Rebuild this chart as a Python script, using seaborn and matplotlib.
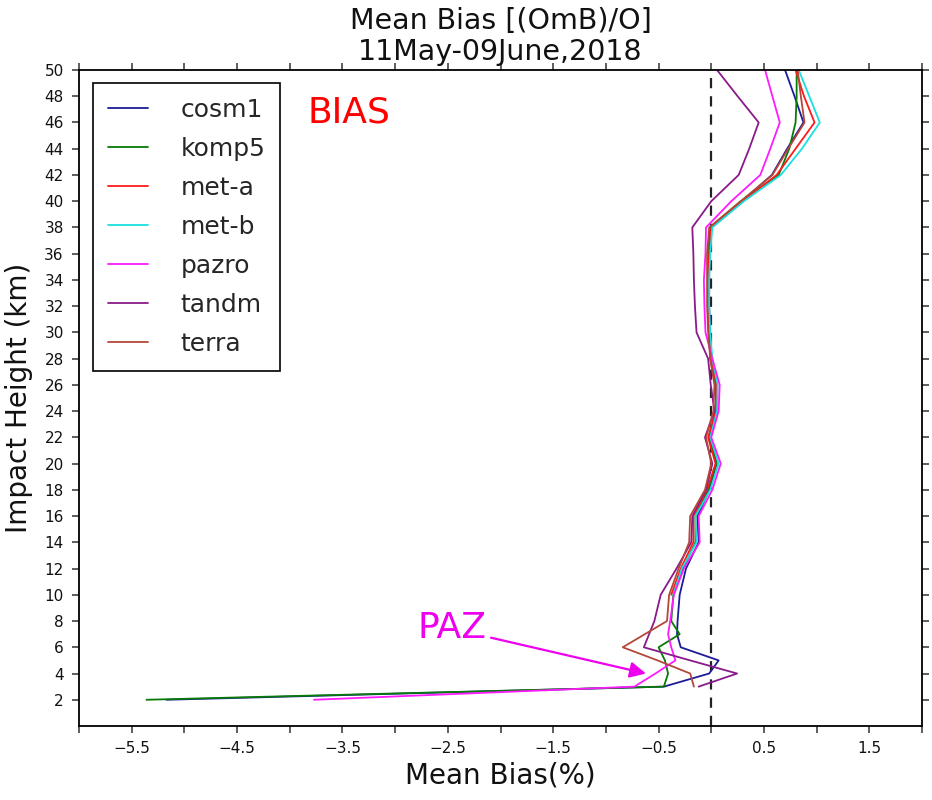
import numpy as np
import pandas as pd
import matplotlib
matplotlib.use("Agg")
import matplotlib.pyplot as plt
import seaborn as sns

heights = [2, 3, 4, 5, 6, 7, 8, 10, 12, 14, 16, 18, 20, 22, 24, 26, 28, 30,
           32, 34, 36, 38, 40, 42, 44, 46, 48, 50]

cosm1 = [-5.17, -0.45, -0.02, 0.07, -0.29, -0.325, -0.32, -0.30, -0.24, -0.12, -0.13, -0.02,
         0.05, -0.02, 0.05, 0.04, 0.0, -0.01, -0.02, -0.02, -0.02, 0.0, 0.29, 0.575,
         0.72, 0.875, 0.79, 0.70]
komp5 = [-5.36, -0.45, -0.41, -0.44, -0.50, -0.30, -0.38, -0.36, -0.27, -0.15, -0.15, -0.03,
         0.05, -0.01, 0.05, 0.04, -0.01, -0.02, -0.03, -0.03, -0.03, -0.01, 0.28, 0.64,
         0.74, 0.80, 0.81, 0.81]
met_a = [None, None, None, None, None, None, None, -0.38, -0.29, -0.17, -0.17, -0.04,
         0.04, -0.03, 0.04, 0.05, 0.0, -0.02, -0.03, -0.03, -0.02, 0.0, 0.30, 0.62,
         0.80, 0.98, 0.88, 0.80]
met_b = [None, None, None, None, None, None, None, -0.36, -0.28, -0.14, -0.15, -0.01,
         0.07, -0.01, 0.055, 0.06, 0.01, -0.01, -0.02, -0.02, -0.01, 0.01, 0.31, 0.66,
         0.86, 1.03, 0.93, 0.83]
pazro = [-3.77, -0.73, -0.53, -0.34, -0.38, -0.41, -0.39, -0.355, -0.26, -0.11, -0.12, 0.01,
         0.09, 0.0, 0.07, 0.08, 0.01, -0.055, -0.065, -0.07, -0.055, -0.05, 0.19, 0.465,
         0.56, 0.65, 0.58, 0.51]
tandm = [None, -0.12, 0.245, -0.20, -0.64, -0.59, -0.54, -0.48, -0.33, -0.19, -0.18, -0.05,
         0.01, -0.06, 0.03, -0.005, -0.03, -0.14, -0.155, -0.165, -0.17, -0.18, 0.0, 0.26,
         0.36, 0.45, 0.25, 0.055]
terra = [None, -0.165, -0.20, -0.51, -0.84, -0.63, -0.42, -0.40, -0.31, -0.21, -0.20, -0.06,
         0.0, -0.05, 0.02, 0.03, -0.01, -0.03, -0.04, -0.04, -0.04, -0.02, 0.28, 0.58,
         0.73, 0.885, 0.85, 0.82]

series_names = ["cosm1", "komp5", "met-a", "met-b", "pazro", "tandm", "terra"]
series_values = [cosm1, komp5, met_a, met_b, pazro, tandm, terra]
colors = ["#1c1c98", "#087a08", "#ff1a1a", "#1ae0e0", "#ff1aff", "#8a1a8a", "#b5473a"]

x_major = [-5.5, -4.5, -3.5, -2.5, -1.5, -0.5, 0.5, 1.5]
x_minor = [-6, -5, -4, -3, -2, -1, 0, 1, 2]
y_ticks = list(range(2, 51, 2))

sns.set_style("ticks")
plt.rcParams['font.family'] = ['DejaVu Sans']

fig = plt.figure(figsize=(9.32, 8.0), dpi=100)
ax = fig.add_axes([0.0848, 0.0925, 0.9045, 0.82])

for name, vals, col in zip(series_names, series_values, colors):
    df = pd.DataFrame({"bias": vals, "height": heights}).dropna()
    sns.lineplot(data=df, x="bias", y="height", sort=False, estimator=None,
                 color=col, lw=1.3, label=name, ax=ax)

ax.axvline(0, color="#222222", ls="--", lw=1.6, dashes=(4.6, 3.6), zorder=0)

ax.set_xlim(-6, 2)
ax.set_ylim(0, 50)
ax.set_xticks(x_major)
ax.set_xticklabels([f"{v:.1f}".replace("-", "\u2212") for v in x_major])
ax.set_xticks(x_minor, minor=True)
ax.set_yticks(y_ticks)
ax.set_yticklabels([str(v) for v in y_ticks])

for side in ["top", "right", "bottom", "left"]:
    ax.spines[side].set_visible(True)
    ax.spines[side].set_color("black")
    ax.spines[side].set_linewidth(1.3)

ax.tick_params(axis="both", which="both", direction="out", length=5, width=1.1,
               color="#333333", top=True, right=True, labelsize=11, pad=6,
               labelcolor="#111111")

ax.set_xlabel("Mean Bias(%)", fontsize=20, labelpad=4, color="#111111")
ax.set_ylabel("Impact Height (km)", fontsize=20, labelpad=8, color="#111111")
ax.set_title("Mean Bias [(OmB)/O]\n11May-09June,2018", fontsize=20.5,
             linespacing=1.15, pad=7, color="#111111")

leg = ax.legend(loc="upper left", bbox_to_anchor=(0.0166, 0.980), borderaxespad=0,
                fontsize=18, handlelength=1.6, handletextpad=1.3, labelspacing=0.6,
                borderpad=0.6, fancybox=False, framealpha=1, edgecolor="black")
leg.get_frame().set_linewidth(1.2)
for line in leg.get_lines():
    line.set_linewidth(1.3)

ax.text(-3.83, 46.0, "BIAS", color="#ff0000", fontsize=26, ha="left", va="baseline")
ax.text(-2.79, 6.73, "PAZ", color="#ee00ee", fontsize=26, ha="left", va="baseline")
ax.annotate("", xy=(-0.62, 4.0), xytext=(-2.09, 6.73),
            arrowprops=dict(arrowstyle="-|>", color="#ee00ee", lw=1.6,
                            mutation_scale=24, shrinkA=0, shrinkB=0))

fig.savefig("out.png", dpi=100)
